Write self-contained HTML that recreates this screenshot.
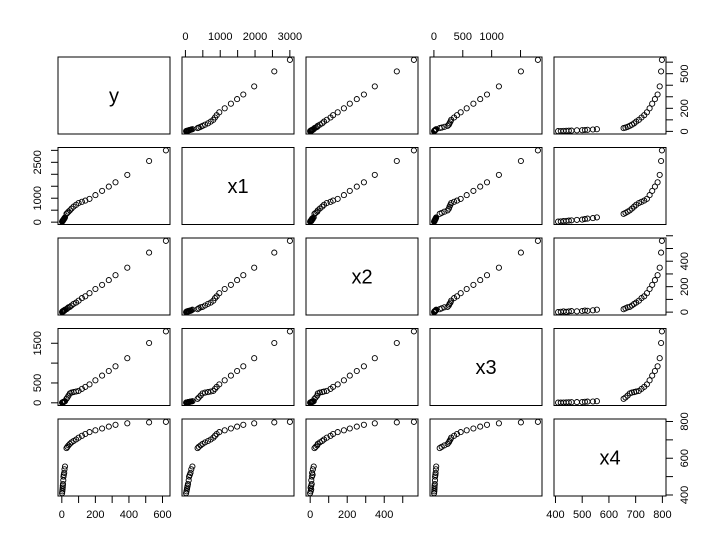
<!DOCTYPE html><html><head><style>body{margin:0;background:#fff}svg{display:block}text{font-family:"Liberation Sans",Arial,sans-serif}</style></head><body>
<svg id="s" width="723" height="554" xmlns="http://www.w3.org/2000/svg"></svg>
<script>
const S=document.getElementById('s');let h='';
const y=[2,3,4,5,6,7,9,10,12,14,16,19,28,33,40,48,58,70,85,100,120,140,165,200,240,280,320,390,520,620];
const x4=[410,420,430,440,450,460,480,500,510,520,540,555,655,662,670,678,686,694,702,712,722,732,742,752,762,772,782,790,795,798];
function interp(p,v){for(let i=1;i<p.length;i++){if(v<=p[i][0]){const a=p[i-1],b=p[i];return a[1]+(b[1]-a[1])*(v-a[0])/(b[0]-a[0]);}}return p[p.length-1][1];}
const x1=y.map(v=>interp([[0,0],[19,200],[28,350],[70,650],[100,800],[160,950],[620,3000]],v));
const x2=y.map((v,i)=>v*0.9+(i%3-1)*2);
const x3=y.map(v=>interp([[0,0],[19,40],[50,250],[100,300],[160,450],[620,1800]],v));
const D=[y,x1,x2,x3,x4],names=['y','x1','x2','x3','x4'];
const L=[58,182,306,430,554],T=[57,147.5,238,328.5,419],W=112,H=77;
const rng=D.map(a=>{let mn=Math.min(...a),mx=Math.max(...a),p=(mx-mn)*0.04;return[mn-p,mx+p]});
const px=(j,v)=>L[j]+(v-rng[j][0])/(rng[j][1]-rng[j][0])*W;
const py=(i,v)=>T[i]+H-(v-rng[i][0])/(rng[i][1]-rng[i][0])*H;
for(let i=0;i<5;i++)for(let j=0;j<5;j++){
h+=`<rect x="${L[j]}" y="${T[i]}" width="${W}" height="${H}" fill="none" stroke="#000" stroke-width="1"/>`;
if(i==j){h+=`<text x="${L[j]+W/2}" y="${T[i]+H/2+7}" font-size="20" text-anchor="middle">${names[i]}</text>`;continue;}
for(let k=0;k<30;k++)h+=`<circle cx="${px(j,D[j][k]).toFixed(1)}" cy="${py(i,D[i][k]).toFixed(1)}" r="2.6" fill="none" stroke="#000" stroke-width="0.9"/>`;
}
const ax={0:{t:[0,100,200,300,400,500,600],l:[0,200,400,600]},1:{t:[0,500,1000,1500,2000,2500,3000],l:[0,1000,2000,3000]},2:{t:[0,100,200,300,400,500],l:[0,200,400]},3:{t:[0,500,1000,1500],l:[0,500,1000]},4:{t:[400,500,600,700,800],l:[400,500,600,700,800]}};
for(let j=0;j<5;j++){const top=j%2==1;const yy=top?T[0]:T[4]+H;const d=top?-7:7;
for(const t of ax[j].t){const x=px(j,t);h+=`<line x1="${x}" x2="${x}" y1="${yy}" y2="${yy+d}" stroke="#000"/>`;}
for(const t of ax[j].l)h+=`<text x="${px(j,t)}" y="${top?yy-17:yy+22}" font-size="11" text-anchor="middle">${t}</text>`;}
const ay={0:{t:[0,100,200,300,400,500,600],l:[0,200,500]},1:{t:[0,500,1000,1500,2000,2500,3000],l:[0,1000,2500]},2:{t:[0,100,200,300,400,500,600],l:[0,200,400]},3:{t:[0,500,1000,1500],l:[0,500,1500]},4:{t:[400,500,600,700,800],l:[400,600,800]}};
for(let i=0;i<5;i++){const right=i%2==0;const xx=right?L[4]+W:L[0];const d=right?7:-7;
const ts=ay[i].t.filter(t=>py(i,t)>=T[i]-4);
for(const t of ts){const v=py(i,t);h+=`<line x1="${xx}" x2="${xx+d}" y1="${v}" y2="${v}" stroke="#000"/>`;}
for(const t of ay[i].l){const v=py(i,t);const tx=right?xx+22:xx-17;h+=`<text transform="translate(${tx},${v}) rotate(-90)" font-size="11" text-anchor="middle">${t}</text>`;}}
S.innerHTML=h;
</script></body></html>
